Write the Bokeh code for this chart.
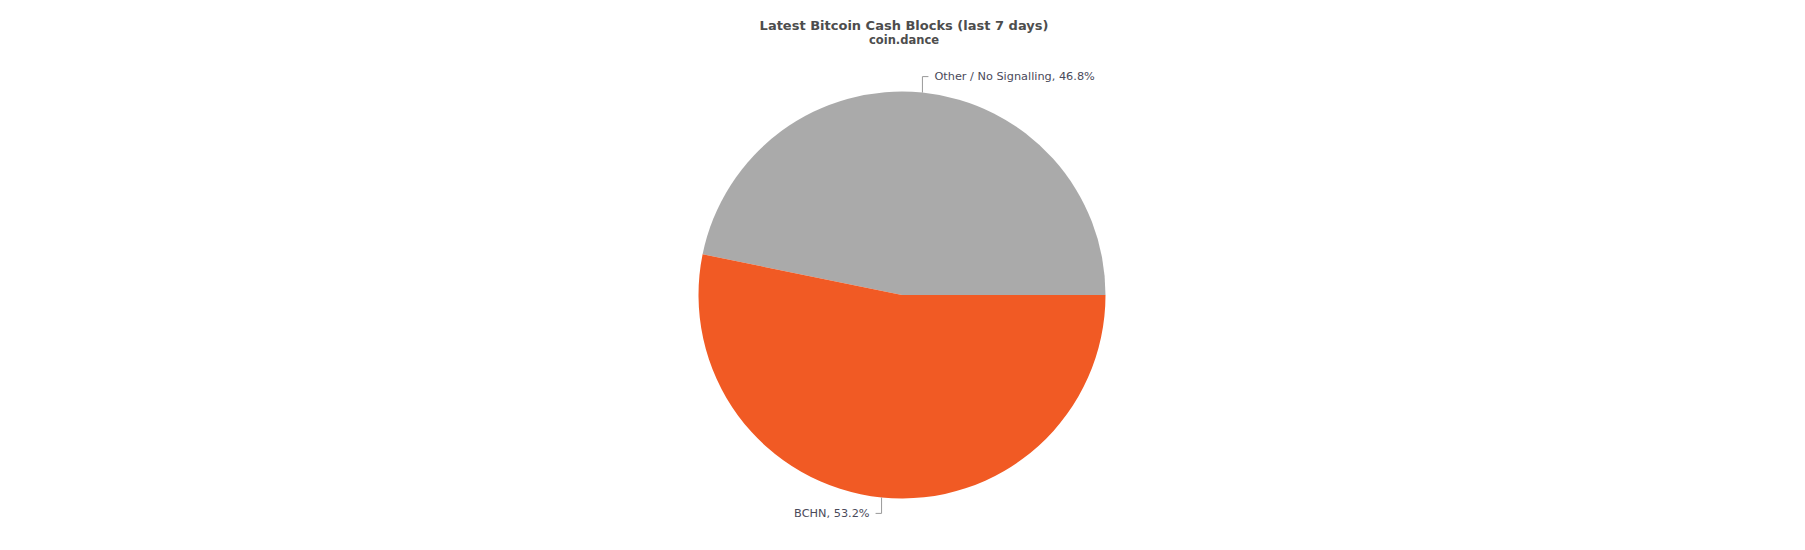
import numpy as np
from bokeh.plotting import figure
from bokeh.models import ColumnDataSource, Range1d
from bokeh.core.properties import value
from bokeh.embed import file_html
from bokeh.resources import INLINE

# chart data
labels = ["Other / No Signalling", "BCHN"]
shares = [46.8, 53.2]
colors = ["#aaaaaa", "#f15a24"]
title = "Latest Bitcoin Cash Blocks (last 7 days)"
subtitle = "coin.dance"

W, H = 1789, 534
cx, cy, r = 901.5, 239.5, 203.5
FONT = "DejaVu Sans"

frac = np.array(shares) / sum(shares)
end = np.cumsum(frac) * 2 * np.pi
start = np.concatenate([[0.0], end[:-1]])
mid = (start + end) / 2

p = figure(width=W, height=H, x_range=Range1d(0, W), y_range=Range1d(0, H),
           x_axis_type=None, y_axis_type=None, toolbar_location=None,
           output_backend="svg", min_border=0)
p.grid.visible = False
p.outline_line_color = None
p.background_fill_color = "white"

src = ColumnDataSource(dict(label=labels, share=shares, color=colors,
                            start=start, end=end))
p.wedge(x=cx, y=cy, radius=r, start_angle="start", end_angle="end",
        fill_color="color", line_color=None, source=src)

# data labels with connectors
for lab, s, m in zip(labels, shares, mid):
    ex, ey = cx + r * np.cos(m), cy + r * np.sin(m)
    ly = cy + (r + 16) * np.sin(m)
    side = 1 if np.cos(m) >= 0 else -1
    p.line([ex, ex, ex + 6 * side], [ey, ly, ly], line_color="#999999", line_width=1)
    p.text(x=[ex + 12 * side], y=[ly], text=[f"{lab}, {s}%"],
           text_font=value(FONT), text_font_size="11.3px", text_color="#4a4a5a",
           text_align="left" if side > 0 else "right", text_baseline="middle")

p.text(x=[cx + 2], y=[509.5], text=[title], text_font=value(FONT),
       text_font_size="13px", text_font_style="bold", text_color="#4d4d4d",
       text_align="center", text_baseline="alphabetic")
p.text(x=[cx + 2], y=[494.5], text=[subtitle], text_font=value(FONT),
       text_font_size="11.5px", text_font_style="bold", text_color="#4d4d4d",
       text_align="center", text_baseline="alphabetic")

open("out.html", "w").write(file_html(p, INLINE))
